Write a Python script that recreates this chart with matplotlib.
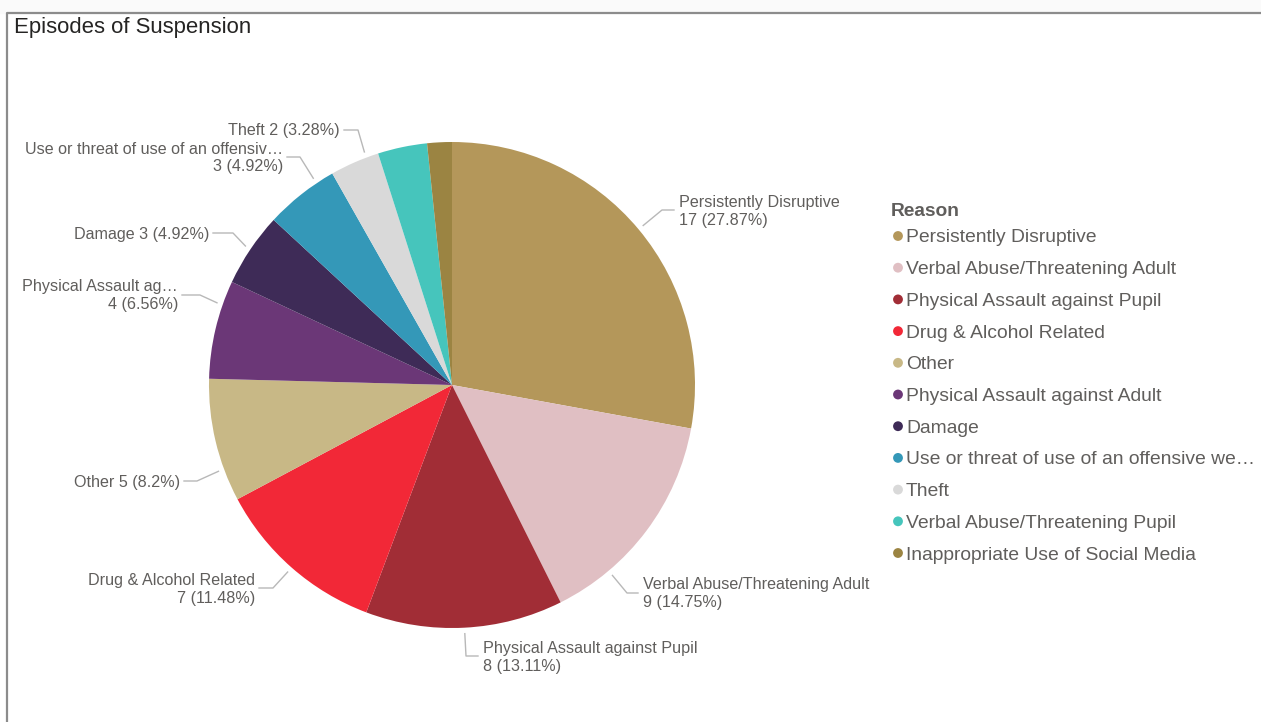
import matplotlib.pyplot as plt
import numpy as np

# data
reasons = ['Persistently Disruptive', 'Verbal Abuse/Threatening Adult',
           'Physical Assault against Pupil', 'Drug & Alcohol Related', 'Other',
           'Physical Assault against Adult', 'Damage',
           'Use or threat of use of an offensive weapon', 'Theft',
           'Verbal Abuse/Threatening Pupil', 'Inappropriate Use of Social Media']
counts = [17, 9, 8, 7, 5, 4, 3, 3, 2, 2, 1]
legend_names = ['Persistently Disruptive', 'Verbal Abuse/Threatening Adult',
                'Physical Assault against Pupil', 'Drug & Alcohol Related', 'Other',
                'Physical Assault against Adult', 'Damage',
                'Use or threat of use of an offensive we\u2026', 'Theft',
                'Verbal Abuse/Threatening Pupil', 'Inappropriate Use of Social Media']
label_names = ['Persistently Disruptive', 'Verbal Abuse/Threatening Adult',
               'Physical Assault against Pupil', 'Drug & Alcohol Related', 'Other',
               'Physical Assault ag\u2026', 'Damage',
               'Use or threat of use of an offensiv\u2026', 'Theft']
colors = ['#B4975A', '#E0BFC3', '#A12D36', '#F22837', '#C8B886', '#6B3777',
          '#3E2B57', '#3498B8', '#D9D9D9', '#46C5BC', '#9B8442']

W, H = 1261, 722
plt.rcParams['font.family'] = ['Liberation Sans', 'DejaVu Sans']
fig = plt.figure(figsize=(W / 100, H / 100), dpi=100)
ax = fig.add_axes([0, 0, 1, 1])

cx, cy, R = 452, H - 385, 243
wedges, _ = ax.pie(counts, colors=colors, startangle=90, counterclock=False,
                   center=(cx, cy), radius=R, wedgeprops=dict(linewidth=0))
ax.set_xlim(0, W)
ax.set_ylim(0, H)
ax.set_aspect('equal')
ax.axis('off')

#-------------------------------------------------------------------------------
# data labels with leader lines
# (text x, text y, elbow x, side, nudge of leader start in degrees)
lab_layout = [(679, 210, 662, 'left', 0),
              (643, 593, 627, 'left', 13),
              (483, 656, 466, 'left', 0),
              (255, 588, 273, 'right', 0),
              (180, 481, 197, 'right', -7),
              (178, 295, 200, 'right', 6),
              (209, 233, 233, 'right', 0),
              (283, 157, 300, 'right', 4.5),
              (340, 130, 358, 'right', 3)]
one_line = ['Other', 'Damage', 'Theft']

total = sum(counts)
cum = np.cumsum([0] + counts)
lab_col = '#605E5C'
for i, name in enumerate(label_names):
    tx, ty, ex, side, nudge = lab_layout[i]
    pct = 100 * counts[i] / total
    ptxt = ('%.2f' % pct).rstrip('0').rstrip('.')
    if name in one_line:
        txt = '%s %d (%s%%)' % (name, counts[i], ptxt)
    else:
        txt = '%s\n%d (%s%%)' % (name, counts[i], ptxt)
    mid = (cum[i] + counts[i] / 2) / total * 360 + nudge
    sx = cx + (R + 6) * np.sin(np.radians(mid))
    sy = cy + (R + 6) * np.cos(np.radians(mid))
    hx = tx - 5 if side == 'left' else tx + 4
    ax.plot([sx, ex, hx], [sy, H - ty, H - ty], color='#B8B8B8', lw=1)
    ax.text(tx, H - ty - 1, txt, ha=side, va='center', ma=side, fontsize=11.6,
            color=lab_col, linespacing=1.25)

#-------------------------------------------------------------------------------
# legend
ax.text(891, H - 212, 'Reason', fontsize=13.8, fontweight='bold', color='#605E5C',
        ha='left', va='center')
for i, name in enumerate(legend_names):
    y = H - (236 + i * 31.7)
    ax.scatter([898], [y], s=50, color=colors[i], edgecolor='none')
    ax.text(906, y - 2, name, fontsize=13.9, color='#605E5C', ha='left', va='center')

#-------------------------------------------------------------------------------
# frame and title
ax.fill_between([0, W], H - 13, H, color='#FAFAFA', zorder=0)
ax.plot([7, 7, W], [0, H - 13, H - 13], color='#8C8C8C', lw=1.6)
ax.text(14, H - 27, 'Episodes of Suspension', fontsize=15.9, color='#252423',
        ha='left', va='center')

fig.savefig('out.png', dpi=100)
